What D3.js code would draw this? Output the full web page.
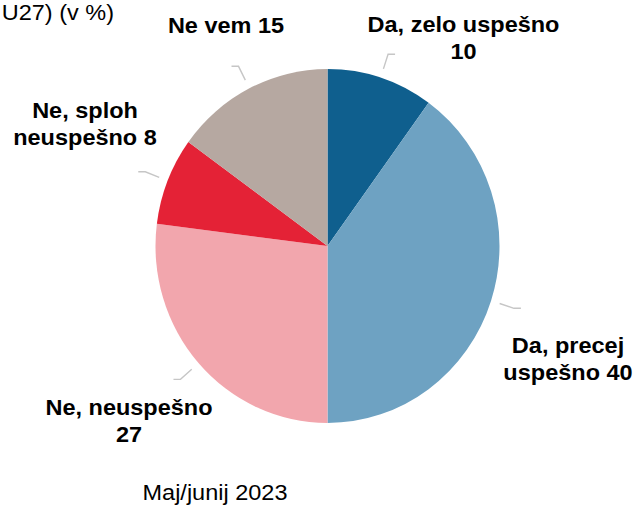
<!DOCTYPE html>
<html>
<head>
<meta charset="utf-8">
<script src="https://cdn.jsdelivr.net/npm/d3@7"></script>
<style>
  html, body { margin: 0; padding: 0; background: #fff; }
  svg { display: block; }
  text { font-family: "Liberation Sans", Arial, sans-serif; fill: #000; }
</style>
</head>
<body>
<svg id="chart" width="636" height="506"></svg>
<script>
// ---- data ----
const categories = ["Da, zelo uspešno", "Da, precej uspešno", "Ne, neuspešno", "Ne, sploh neuspešno", "Ne vem"];
const values = [10, 40, 27, 8, 15];
const colors = ["#0f5f8e", "#6ea2c2", "#f2a6ad", "#e42236", "#b6a8a1"];
const labelLines = [
  ["Da, zelo uspešno", "10"],
  ["Da, precej", "uspešno 40"],
  ["Ne, neuspešno", "27"],
  ["Ne, sploh", "neuspešno 8"],
  ["Ne vem 15"]
];
const subtitle = "U27) (v %)";
const period = "Maj/junij 2023";

// ---- layout ----
const W = 636, H = 506;
const cx = 327.5, cy = 246, R = 172, sy = 1.029;
// label anchor positions (center x, first baseline y)
const labelPos = [
  [463.5, 31.7],
  [568, 352.5],
  [129, 415],
  [85, 117.7],
  [226, 33.3]
];
const lineGap = 27.2;

const svg = d3.select("#chart");

const pie = d3.pie().sort(null).value(d => d)(values);
const arc = d3.arc().innerRadius(0).outerRadius(R);

const g = svg.append("g").attr("transform", `translate(${cx},${cy}) scale(1,${sy})`);

g.selectAll("path.slice")
  .data(pie)
  .join("path")
  .attr("class", "slice")
  .attr("d", arc)
  .attr("fill", (d, i) => colors[i]);

// leader lines
const innerArc = d3.arc().innerRadius(181).outerRadius(181);
const outerArc = d3.arc().innerRadius(196).outerRadius(196);
g.selectAll("polyline.leader")
  .data(pie)
  .join("polyline")
  .attr("class", "leader")
  .attr("points", d => {
    const a = (d.startAngle + d.endAngle) / 2;
    const p1 = innerArc.centroid(d);
    const p2 = outerArc.centroid(d);
    const side = Math.sin(a) >= 0 ? 1 : -1;
    const p3 = [p2[0] + side * 7, p2[1]];
    return [p1, p2, p3].map(p => p.join(",")).join(" ");
  })
  .attr("fill", "none")
  .attr("stroke", "#c6c6c6")
  .attr("stroke-width", 1.4);

// labels
const fs = 23.5, vs = 0.93;
labelLines.forEach((lines, i) => {
  const [x, y] = labelPos[i];
  lines.forEach((t, j) => {
    svg.append("text")
      .attr("transform", `translate(${x},${y + j * lineGap}) scale(1,${vs})`)
      .attr("text-anchor", "middle")
      .attr("font-weight", "bold")
      .attr("font-size", fs)
      .text(t);
  });
});

// subtitle (cut at left edge)
svg.append("text")
  .attr("transform", `translate(1.7,20) scale(1,${vs})`)
  .attr("font-size", fs)
  .text(subtitle);

// period label
svg.append("text")
  .attr("transform", `translate(215,500) scale(1,${vs})`)
  .attr("text-anchor", "middle")
  .attr("font-size", fs)
  .text(period);
</script>
</body>
</html>
